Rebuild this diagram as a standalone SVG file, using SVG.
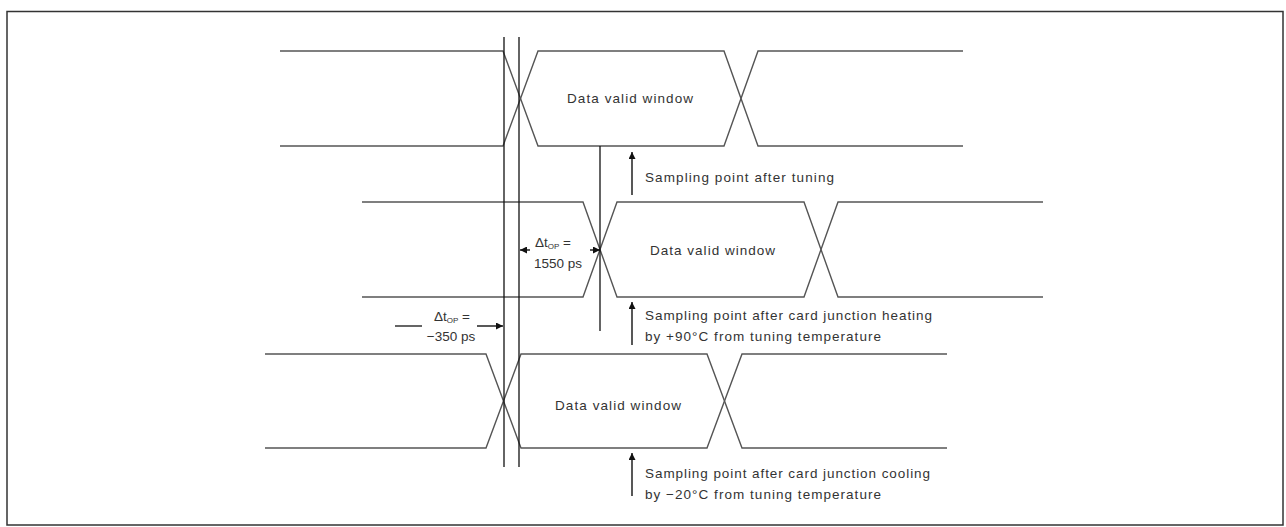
<svg xmlns="http://www.w3.org/2000/svg" width="1286" height="527" viewBox="0 0 1286 527">
<defs>
<style>
.sig{fill:none;stroke:#555;stroke-width:1.4}
.ln{fill:none;stroke:#111;stroke-width:1.3}
.frame{fill:none;stroke:#333;stroke-width:1.5}
text{font-family:"Liberation Sans",Arial,sans-serif;font-size:13.5px;fill:#333}
.arr{fill:none;stroke:#111;stroke-width:1.4;marker-end:url(#ah)}
</style>
<marker id="ah" viewBox="0 0 10 10" refX="10" refY="5" markerWidth="8" markerHeight="7" orient="auto" markerUnits="userSpaceOnUse">
<path d="M0,0 L10,5 L0,10 z" fill="#111"/>
</marker>
</defs>
<rect width="1286" height="527" fill="#fff"/>
<rect class="frame" x="7" y="11.5" width="1276" height="513.5"/>

<g id="row1">
<path class="sig" d="M280,51 H503 L538,146 H724 L758,51 H963"/>
<path class="sig" d="M280,146 H503 L538,51 H724 L758,146 H963"/>
<text x="567" y="103" textLength="126">Data valid window</text>
</g>

<g id="row2">
<path class="sig" d="M362,202 H583 L617,297 H804 L838,202 H1043"/>
<path class="sig" d="M362,297 H583 L617,202 H804 L838,297 H1043"/>
<text x="650" y="255" textLength="125">Data valid window</text>
</g>

<g id="row3">
<path class="sig" d="M265,354 H486 L521,448 H707 L742,354 H947"/>
<path class="sig" d="M265,448 H486 L521,354 H707 L742,448 H947"/>
<text x="555" y="410" textLength="126">Data valid window</text>
</g>

<g id="connectors">
<line class="ln" x1="504" y1="37" x2="504" y2="467"/>
<line class="ln" x1="519" y1="37" x2="519" y2="467"/>
<line class="ln" x1="600" y1="146" x2="600" y2="331"/>
<line class="arr" x1="632" y1="195" x2="632" y2="152"/>
<line class="arr" x1="632" y1="345" x2="632" y2="302"/>
<line class="arr" x1="632" y1="496" x2="632" y2="453"/>
<line class="arr" x1="530" y1="250" x2="520" y2="250"/>
<line class="arr" x1="590" y1="250" x2="600" y2="250"/>
<line class="ln" x1="395" y1="326" x2="422" y2="326"/>
<line class="arr" x1="477" y1="326" x2="503" y2="326"/>
</g>

<g id="label-tuning">
<text x="645" y="182" textLength="189">Sampling point after tuning</text>
</g>
<g id="label-heating">
<text x="645" y="320" textLength="287">Sampling point after card junction heating</text>
<text x="645" y="341" textLength="236">by +90°C from tuning temperature</text>
</g>
<g id="label-cooling">
<text x="645" y="478" textLength="285">Sampling point after card junction cooling</text>
<text x="645" y="499" textLength="236">by −20°C from tuning temperature</text>
</g>
<g id="delta1">
<text x="553" y="247" text-anchor="middle">Δt<tspan font-size="8" dy="2">OP</tspan><tspan dy="-2"> =</tspan></text>
<text x="558" y="268" text-anchor="middle">1550 ps</text>
</g>
<g id="delta2">
<text x="452" y="321" text-anchor="middle">Δt<tspan font-size="8" dy="2">OP</tspan><tspan dy="-2"> =</tspan></text>
<text x="451" y="341" text-anchor="middle">−350 ps</text>
</g>
</svg>
